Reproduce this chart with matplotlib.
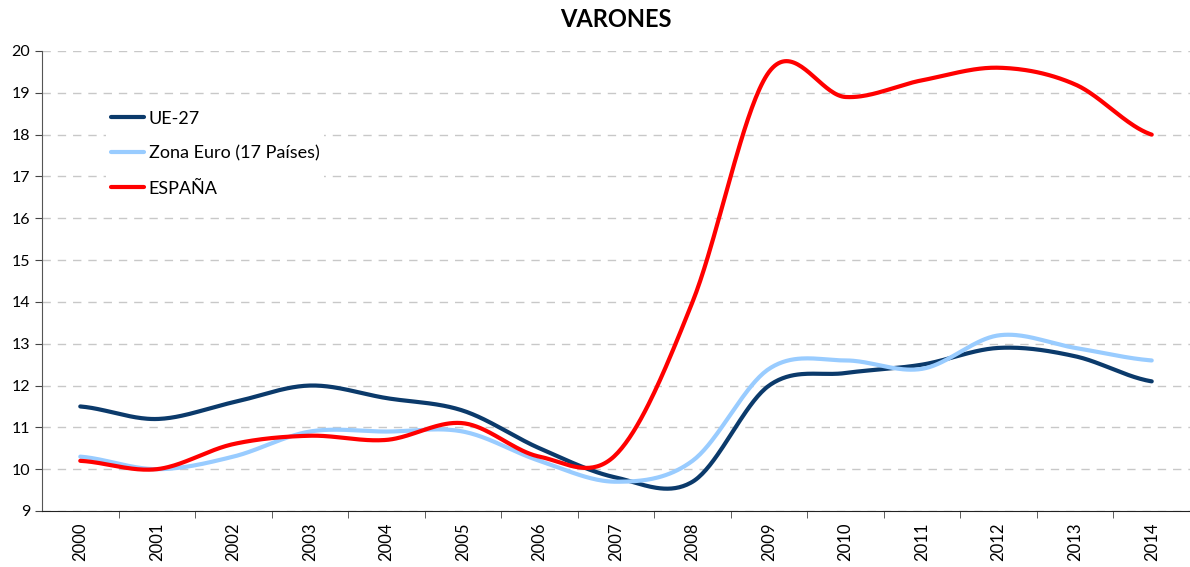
import numpy as np
import matplotlib.pyplot as plt

years = list(range(2000, 2015))
ue27 = [11.5, 11.2, 11.6, 12.0, 11.7, 11.4, 10.5, 9.8, 9.7, 12.0, 12.3, 12.5, 12.9, 12.7, 12.1]
zona_euro = [10.3, 10.0, 10.3, 10.9, 10.9, 10.9, 10.2, 9.7, 10.2, 12.4, 12.6, 12.4, 13.2, 12.9, 12.6]
espana = [10.2, 10.0, 10.6, 10.8, 10.7, 11.1, 10.3, 10.35, 14.0, 19.5, 18.9, 19.3, 19.6, 19.2, 18.0]


def smooth(y, n=40):
    # Excel-like smoothed line: cubic Bezier with Catmull-Rom tangents
    y = np.asarray(y, dtype=float)
    x = np.arange(len(y), dtype=float)
    xs, ys = [], []
    for i in range(len(y) - 1):
        y0 = y[i - 1] if i > 0 else y[i]
        y3 = y[i + 2] if i + 2 < len(y) else y[i + 1]
        c1 = y[i] + (y[i + 1] - y0) / 6
        c2 = y[i + 1] - (y3 - y[i]) / 6
        t = np.linspace(0, 1, n, endpoint=(i == len(y) - 2))
        ys.append((1 - t) ** 3 * y[i] + 3 * (1 - t) ** 2 * t * c1 + 3 * (1 - t) * t ** 2 * c2 + t ** 3 * y[i + 1])
        xs.append(x[i] + t)
    return np.concatenate(xs), np.concatenate(ys)


plt.rcParams['font.family'] = ['Lato', 'DejaVu Sans']

fig = plt.figure(figsize=(11.9, 5.67), dpi=100)
ax = fig.add_axes([42 / 1190, 1 - 511 / 567, 1148 / 1190, 460 / 567])

series = [(ue27, 'UE-27', '#0B3A6B'),
          (zona_euro, 'Zona Euro (17 Países)', '#99CCFF'),
          (espana, 'ESPAÑA', '#FF0000')]
for vals, name, col in series:
    sx, sy = smooth(vals)
    ax.plot(sx, sy, color=col, lw=3, label=name, solid_capstyle='round', zorder=3)

ax.set_xlim(-0.5, len(years) - 0.5)
ax.set_ylim(9, 20)
ax.set_yticks(range(9, 21))
ax.set_xticks(range(len(years)))
ax.set_xticklabels([str(y) for y in years], rotation=90, fontsize=12)
ax.set_xticks(np.arange(0.5, len(years) - 0.5, 1), minor=True)
ax.tick_params(axis='x', which='major', length=0, pad=8)
ax.tick_params(axis='x', which='minor', length=5, color='#444444')
ax.tick_params(axis='y', length=5, color='#444444', labelsize=11.5)
ax.grid(axis='y', color='#c8c8c8', linestyle=(0, (6, 5)), lw=1)
ax.set_axisbelow(True)
for s in ['top', 'right']:
    ax.spines[s].set_visible(False)
ax.spines['left'].set_color('#555555')
ax.spines['bottom'].set_color('#222222')

ax.set_title('VARONES', fontsize=17, fontweight='bold', pad=17)

leg = ax.legend(loc='upper left', bbox_to_anchor=(0.048, 0.9), fontsize=13,
                frameon=True, edgecolor='none', facecolor='white', framealpha=1,
                fancybox=False, handlelength=1.85, handletextpad=0.25,
                labelspacing=1.05, borderpad=0.25)

fig.savefig('out.png', dpi=100)
